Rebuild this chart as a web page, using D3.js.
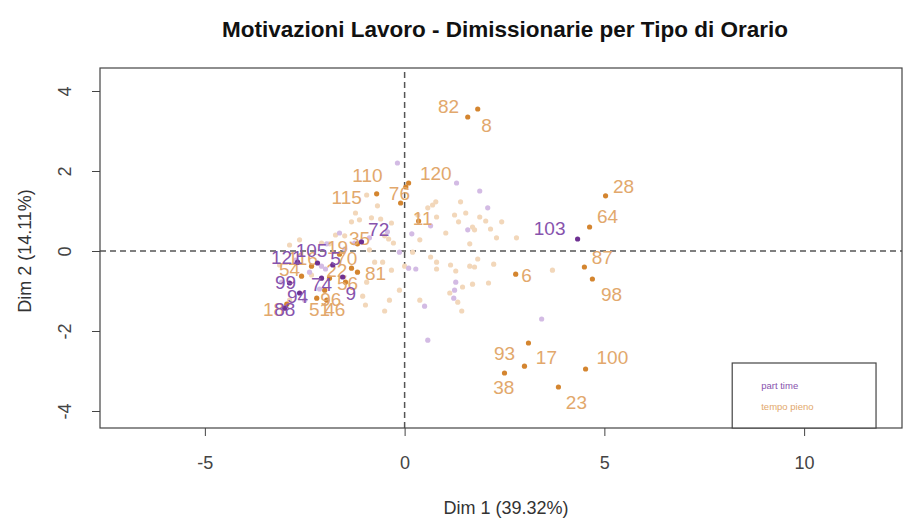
<!DOCTYPE html>
<html>
<head>
<meta charset="utf-8">
<script src="https://cdn.jsdelivr.net/npm/d3@7"></script>
<style>
  body { margin: 0; background: #fff; }
  svg { font-family: "Liberation Sans", Arial, sans-serif; }
</style>
</head>
<body>
<svg id="chart" width="903" height="519"></svg>
<script>
// Motivazioni Lavoro - MCA individuals by schedule type
const title = "Motivazioni Lavoro - Dimissionarie per Tipo di Orario";
const xLabel = "Dim 1 (39.32%)";
const yLabel = "Dim 2 (14.11%)";
const xTicks = [-5, 0, 5, 10];
const yTicks = [-4, -2, 0, 2, 4];
const groups = ["part time", "tempo pieno"];

// labelled individuals: id, x, y, label x, label y (label spots as placed by autoLab)
const partLabeled = [
  ["103", 4.33, 0.30, 3.63, 0.58],
  ["72", -1.08, 0.23, -0.65, 0.55],
  ["121", -2.68, -0.28, -2.95, -0.15],
  ["105", -2.18, -0.30, -2.33, 0.03],
  ["5", -1.80, -0.35, -1.73, -0.18],
  ["99", -2.88, -0.80, -2.98, -0.78],
  ["74", -2.08, -0.68, -2.08, -0.83],
  ["94", -2.63, -1.05, -2.68, -1.13],
  ["9", -1.55, -0.65, -1.35, -1.05],
  ["88", -3.00, -1.43, -3.00, -1.45]
];
const fullLabeled = [
  ["82", 1.58, 3.35, 1.10, 3.63],
  ["8", 1.83, 3.55, 2.05, 3.15],
  ["28", 5.03, 1.38, 5.48, 1.63],
  ["64", 4.63, 0.60, 5.08, 0.88],
  ["87", 4.50, -0.40, 4.95, -0.15],
  ["98", 4.70, -0.70, 5.18, -1.08],
  ["6", 2.78, -0.58, 3.05, -0.60],
  ["93", 3.10, -2.30, 2.50, -2.55],
  ["17", 3.00, -2.88, 3.55, -2.65],
  ["38", 2.50, -3.05, 2.48, -3.40],
  ["23", 3.85, -3.40, 4.30, -3.78],
  ["100", 4.53, -2.95, 5.20, -2.65],
  ["120", 0.10, 1.70, 0.78, 1.95],
  ["110", 0.03, 1.60, -0.93, 1.90],
  ["115", -0.70, 1.43, -1.45, 1.35],
  ["76", -0.10, 1.20, -0.13, 1.45],
  ["11", 0.35, 0.75, 0.45, 0.83],
  ["35", -1.18, 0.18, -1.13, 0.33],
  ["19", -1.63, -0.08, -1.68, 0.10],
  ["116", -2.33, -0.38, -2.55, -0.18],
  ["54", -2.58, -0.63, -2.88, -0.45],
  ["70", -1.33, -0.43, -1.45, -0.18],
  ["81", -1.18, -0.53, -0.73, -0.55],
  ["56", -1.48, -0.78, -1.43, -0.80],
  ["96", -2.00, -0.98, -1.85, -1.20],
  ["18", -2.95, -1.33, -3.28, -1.45],
  ["51", -2.20, -1.18, -2.13, -1.45],
  ["46", -1.95, -1.23, -1.75, -1.45],
  ["22", -1.88, -0.68, -1.70, -0.48]
];

// remaining individuals (faded)
const partOther = [
  [-0.18, 2.20], [1.30, 1.70], [1.88, 1.50], [2.08, 1.08], [1.58, 0.53],
  [0.65, 0.63], [0.18, 0.43], [0.10, -0.43], [0.28, -0.45], [1.25, -0.98],
  [0.50, -1.38], [0.58, -2.23], [1.23, -1.18], [3.43, -1.70], [-0.13, -0.03],
  [-0.43, 0.48], [-0.88, 0.33], [-1.25, 0.20], [-1.50, 0.05], [-1.95, 0.18],
  [-2.38, -0.53], [-2.13, -0.95], [-2.73, -0.23], [-3.08, -0.78], [-2.50, -1.23],
  [-1.63, 0.45], [1.28, -0.78], [-2.08, -0.38], [-1.98, -0.45]
];
const fullOther = [
  [-0.68, 1.13], [-0.83, 0.83], [-0.60, 0.80], [-1.33, 0.73], [-1.13, 0.78],
  [-1.50, 0.38], [-1.88, 0.18], [-0.50, 0.38], [-0.40, 0.30], [-0.28, 0.20],
  [0.20, -0.03], [0.38, 0.28], [0.78, 1.23], [0.80, 0.85], [1.03, 0.45],
  [1.25, 0.90], [1.35, 0.73], [1.53, 0.95], [1.75, 0.53], [1.88, 0.85],
  [2.03, 0.75], [1.63, 0.18], [1.75, -0.40], [0.65, -0.15], [0.80, -0.28],
  [1.15, -0.35], [1.28, -0.50], [1.63, -0.38], [1.83, -0.20], [2.10, -0.80],
  [1.70, -0.83], [1.43, -1.50], [1.13, -1.05], [0.80, -0.45], [-0.50, -1.50],
  [-0.38, -1.23], [-0.88, 0.03], [-0.75, -0.28], [-0.33, -0.48], [0.00, -0.38],
  [-0.13, -0.98], [-0.55, -0.28], [-0.95, -0.78], [-1.05, -1.13], [-0.98, -1.35],
  [-1.73, 0.40], [-2.08, 0.20], [-2.63, 0.28], [-2.88, 0.15], [-3.13, -0.35],
  [-2.88, -1.23], [-2.33, -0.60], [-1.23, 0.95], [0.33, 0.90], [0.58, 1.08],
  [2.80, 0.33], [3.70, -0.48], [0.38, -1.23], [-0.33, 0.70], [-0.95, 1.40],
  [1.45, -0.90], [1.33, -1.28], [0.70, 1.15], [1.40, 1.23], [2.43, 0.73],
  [2.30, 0.33], [2.15, 0.55], [1.70, 0.60], [2.23, -0.33]
];

const colors = {
  part: { dot: "#6e3192", label: "#8753ad", faded: "#d3bbe4" },
  full: { dot: "#d4852f", label: "#e2a86c", faded: "#f2d7ba" }
};

const svg = d3.select("#chart");
const margin = { left: 100, right: 1, top: 68, bottom: 91 };
const W = 903, H = 519;

const x = d3.scaleLinear().domain([-7.625, 12.45]).range([margin.left, W - margin.right]);
const y = d3.scaleLinear().domain([-4.425, 4.575]).range([H - margin.bottom, margin.top]);

// title
svg.append("text")
  .attr("x", 505).attr("y", 37)
  .attr("text-anchor", "middle")
  .attr("font-size", 22.5).attr("font-weight", "bold")
  .attr("fill", "#111")
  .text(title);

// reference lines
const refColor = "#555";
svg.append("line")
  .attr("x1", x.range()[0]).attr("x2", x.range()[1])
  .attr("y1", y(0)).attr("y2", y(0))
  .attr("stroke", refColor).attr("stroke-width", 1.5).attr("stroke-dasharray", "6,4");
svg.append("line")
  .attr("x1", x(0)).attr("x2", x(0))
  .attr("y1", y.range()[0]).attr("y2", y.range()[1])
  .attr("stroke", refColor).attr("stroke-width", 1.5).attr("stroke-dasharray", "6,4");

// faded individuals
const gPts = svg.append("g");
gPts.selectAll(".pf").data(fullOther).enter().append("circle")
  .attr("cx", d => x(d[0])).attr("cy", d => y(d[1])).attr("r", 2.6)
  .attr("fill", colors.full.faded);
gPts.selectAll(".pp").data(partOther).enter().append("circle")
  .attr("cx", d => x(d[0])).attr("cy", d => y(d[1])).attr("r", 2.6)
  .attr("fill", colors.part.faded);

// labelled individuals
function drawLabeled(data, c) {
  const g = svg.append("g");
  g.selectAll("circle").data(data).enter().append("circle")
    .attr("cx", d => x(d[1])).attr("cy", d => y(d[2])).attr("r", 2.6)
    .attr("fill", c.dot);
  g.selectAll("text").data(data).enter().append("text")
    .attr("x", d => x(d[3])).attr("y", d => y(d[4]))
    .attr("dy", "0.36em")
    .attr("text-anchor", "middle")
    .attr("font-size", 19)
    .attr("fill", c.label)
    .text(d => d[0]);
}
drawLabeled(fullLabeled, colors.full);
drawLabeled(partLabeled, colors.part);

// frame
svg.append("rect")
  .attr("x", margin.left).attr("y", margin.top)
  .attr("width", W - margin.right - margin.left)
  .attr("height", H - margin.bottom - margin.top)
  .attr("fill", "none").attr("stroke", "#444").attr("stroke-width", 1.2);

// axes (plain hyphen for negatives, as in R)
const fmt = d => String(d);
const xAxis = svg.append("g")
  .attr("transform", `translate(0,${H - margin.bottom})`)
  .call(d3.axisBottom(x).tickValues(xTicks).tickSize(8).tickPadding(20).tickFormat(fmt));
const yAxis = svg.append("g")
  .attr("transform", `translate(${margin.left},0)`)
  .call(d3.axisLeft(y).tickValues(yTicks).tickSize(8).tickFormat(fmt));
[xAxis, yAxis].forEach(a => {
  a.select(".domain").remove();
  a.selectAll(".tick line").attr("stroke", "#444");
  a.selectAll(".tick text").attr("font-size", 18).attr("fill", "#444")
    .attr("font-family", "Liberation Sans, Arial, sans-serif");
});
yAxis.selectAll(".tick text")
  .attr("x", null).attr("dy", "0.35em")
  .attr("text-anchor", "middle")
  .attr("transform", "translate(-35,0) rotate(-90)");

// axis titles
svg.append("text")
  .attr("x", 506).attr("y", 514)
  .attr("text-anchor", "middle").attr("font-size", 18).attr("fill", "#333")
  .text(xLabel);
svg.append("text")
  .attr("transform", `translate(31,${y(0)}) rotate(-90)`)
  .attr("text-anchor", "middle").attr("font-size", 18).attr("fill", "#333")
  .text(yLabel);

// legend
const lg = svg.append("g");
lg.append("rect")
  .attr("x", x(8.2)).attr("y", y(-2.8))
  .attr("width", x(11.8) - x(8.2)).attr("height", y(-4.425) - y(-2.8))
  .attr("fill", "#fff").attr("stroke", "#444").attr("stroke-width", 1.2);
lg.selectAll("text").data(groups).enter().append("text")
  .attr("x", x(8.2) + 29)
  .attr("y", (d, i) => y(-2.8) + 26 + i * 21)
  .attr("font-size", 9.5)
  .attr("fill", (d, i) => i === 0 ? colors.part.label : colors.full.label)
  .text(d => d);
</script>
</body>
</html>
